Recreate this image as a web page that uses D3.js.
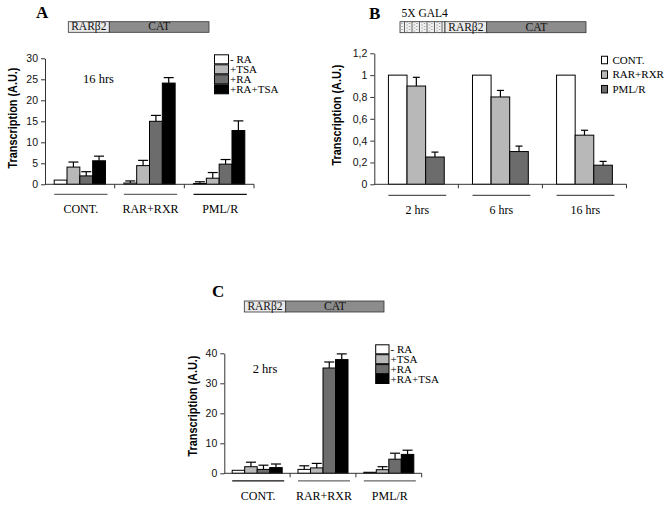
<!DOCTYPE html>
<html>
<head>
<meta charset="utf-8">
<script src="https://cdn.jsdelivr.net/npm/d3@7"></script>
<style>
  body { margin: 0; background: #fff; }
  svg { display: block; }
  .serif { font-family: "Liberation Serif", "Times New Roman", serif; }
  .sans { font-family: "Liberation Sans Narrow", "Arial Narrow", "Liberation Sans", Arial, sans-serif; }
</style>
</head>
<body>
<div id="chart"></div>
<script>
// panel A : 16 hrs
const groupsA = ["CONT.", "RAR+RXR", "PML/R"];
const seriesA = ["- RA", "+TSA", "+RA", "+RA+TSA"];
const valuesA = [[1.0, 4.1, 2.0, 5.6], [0.3, 4.45, 15.0, 24.1], [0.2, 1.45, 4.8, 12.8]];
const errorsA = [[0, 1.2, 1.0, 1.1], [0.5, 1.25, 1.4, 1.3], [0.4, 1.35, 1.1, 2.3]];
const ticksA = [0, 5, 10, 15, 20, 25, 30];

// panel B : 5X GAL4 time course
const groupsB = ["2 hrs", "6 hrs", "16 hrs"];
const seriesB = ["CONT.", "RAR+RXR", "PML/R"];
const valuesB = [[1.0, 0.9, 0.25], [1.0, 0.8, 0.3], [1.0, 0.45, 0.175]];
const errorsB = [[0, 0.08, 0.045], [0, 0.06, 0.05], [0, 0.045, 0.035]];
const ticksB = [0, 0.2, 0.4, 0.6, 0.8, 1, 1.2];

// panel C : 2 hrs
const groupsC = ["CONT.", "RAR+RXR", "PML/R"];
const seriesC = ["- RA", "+TSA", "+RA", "+RA+TSA"];
const valuesC = [[1.0, 2.2, 1.3, 1.9], [1.3, 1.8, 35.1, 37.9], [0.35, 1.2, 4.7, 6.3]];
const errorsC = [[0, 1.5, 1.4, 1.2], [1.2, 1.5, 2.0, 1.9], [0, 1.0, 2.0, 1.4]];
const ticksC = [0, 10, 20, 30, 40];

const fourColors = ["#ffffff", "#b8b8b8", "#6c6c6c", "#000000"];
const threeColors = ["#ffffff", "#b8b8b8", "#6c6c6c"];

const svg = d3.select("#chart")
  .append("svg")
  .attr("width", 667)
  .attr("height", 507);

const defs = svg.append("defs");
const pat = defs.append("pattern")
  .attr("id", "gal4")
  .attr("patternUnits", "userSpaceOnUse")
  .attr("width", 7.5).attr("height", 3);
pat.append("rect").attr("width", 7.5).attr("height", 3).attr("fill", "#f2f2f2");
pat.append("rect").attr("x", 1.5).attr("y", 0.5).attr("width", 1).attr("height", 1).attr("fill", "#777");
pat.append("rect").attr("x", 4).attr("y", 2).attr("width", 1).attr("height", 1).attr("fill", "#777");
pat.append("line").attr("x1", 7).attr("x2", 7).attr("y1", 0).attr("y2", 3)
  .attr("stroke", "#333").attr("stroke-width", 0.8);

function drawPanel(p) {
  const g = svg.append("g");

  const x0 = d3.scaleBand().domain(p.groups).range(p.xRange);
  const bw = x0.bandwidth();
  const x1 = d3.scaleBand().domain(p.series).range([bw * p.inset, bw * (1 - p.inset)]);
  const y = d3.scaleLinear().domain([0, d3.max(p.ticks)]).range(p.yRange);
  const color = d3.scaleOrdinal().domain(p.series).range(p.colors);

  // bars
  const grp = g.selectAll("g.grp")
    .data(p.groups)
    .join("g")
    .attr("class", "grp")
    .attr("transform", d => `translate(${x0(d)},0)`);

  const bars = grp.selectAll("g.bar")
    .data((d, i) => p.series.map((s, j) => ({ s, v: p.values[i][j], e: p.errors[i][j] })))
    .join("g")
    .attr("class", "bar");

  bars.append("rect")
    .attr("x", d => x1(d.s))
    .attr("y", d => y(d.v))
    .attr("width", x1.bandwidth())
    .attr("height", d => y(0) - y(d.v))
    .attr("fill", d => color(d.s))
    .attr("stroke", "#000")
    .attr("stroke-width", 1);

  const err = bars.filter(d => d.e > 0);
  err.append("line")
    .attr("x1", d => x1(d.s) + x1.bandwidth() / 2)
    .attr("x2", d => x1(d.s) + x1.bandwidth() / 2)
    .attr("y1", d => y(d.v))
    .attr("y2", d => y(d.v + d.e))
    .attr("stroke", "#000").attr("stroke-width", 1.2);
  err.append("line")
    .attr("x1", d => x1(d.s) + x1.bandwidth() / 2 - p.cap)
    .attr("x2", d => x1(d.s) + x1.bandwidth() / 2 + p.cap)
    .attr("y1", d => y(d.v + d.e))
    .attr("y2", d => y(d.v + d.e))
    .attr("stroke", "#000").attr("stroke-width", 1.2);

  // y axis
  const yAxis = g.append("g")
    .attr("class", "sans")
    .attr("transform", `translate(${p.xRange[0]},0)`)
    .call(d3.axisLeft(y).tickValues(p.ticks).tickSize(4).tickSizeOuter(0).tickPadding(3).tickFormat(p.fmt));
  yAxis.selectAll("text").attr("font-size", 10.5).attr("fill", "#111");
  yAxis.selectAll("path, line").attr("stroke", "#333");

  // x axis with group boundary ticks
  g.append("line")
    .attr("x1", p.xRange[0]).attr("x2", p.xRange[1])
    .attr("y1", y(0)).attr("y2", y(0))
    .attr("stroke", "#333");
  g.selectAll("line.xt")
    .data(p.groups)
    .join("line")
    .attr("class", "xt")
    .attr("x1", d => x0(d) + bw).attr("x2", d => x0(d) + bw)
    .attr("y1", y(0)).attr("y2", y(0) + 4)
    .attr("stroke", "#333");

  // group underlines and labels
  grp.append("line")
    .attr("x1", bw * p.inset)
    .attr("x2", bw * (1 - p.inset) + 2)
    .attr("y1", y(0) + p.lineOff).attr("y2", y(0) + p.lineOff)
    .attr("stroke", (d, i) => p.lineColors[i])
    .attr("stroke-width", 1.3);
  grp.append("text")
    .attr("class", "serif")
    .attr("x", bw / 2 + 1)
    .attr("y", y(0) + p.labelOff)
    .attr("text-anchor", "middle")
    .attr("font-size", 12)
    .text(d => d);

  // y label
  g.append("text")
    .attr("class", "sans")
    .attr("transform", `translate(${p.yLabel[0]},${p.yLabel[1]}) rotate(-90)`)
    .attr("text-anchor", "middle")
    .attr("font-size", 12.5)
    .attr("font-weight", "bold")
    .attr("textLength", 101)
    .attr("lengthAdjust", "spacingAndGlyphs")
    .text("Transcription (A.U.)");

  // legend
  const leg = g.selectAll("g.leg")
    .data(p.series)
    .join("g")
    .attr("class", "leg")
    .attr("transform", (d, i) => `translate(${p.legend.x},${p.legend.y + i * p.legend.step})`);
  leg.append("rect")
    .attr("x", 0).attr("y", -p.legend.h / 2)
    .attr("width", p.legend.w).attr("height", p.legend.h)
    .attr("fill", d => color(d))
    .attr("stroke", "#000").attr("stroke-width", 1);
  leg.append("text")
    .attr("class", "serif")
    .attr("x", p.legend.w + p.legend.gap)
    .attr("y", 3.5)
    .attr("font-size", p.legend.fs)
    .text(d => d);

  // panel letter and note
  g.append("text")
    .attr("class", "serif")
    .attr("x", p.letter[0]).attr("y", p.letter[1])
    .attr("font-size", 17).attr("font-weight", "bold")
    .text(p.name);
  if (p.note) {
    g.append("text")
      .attr("class", "serif")
      .attr("x", p.note[0]).attr("y", p.note[1])
      .attr("font-size", 12.5)
      .text(p.note[2]);
  }

  // construct diagram
  const c = g.append("g").attr("class", "serif");
  p.construct.forEach(seg => {
    c.append("rect")
      .attr("x", seg.x0).attr("y", p.cy)
      .attr("width", seg.x1 - seg.x0).attr("height", p.ch)
      .attr("fill", seg.fill)
      .attr("stroke", "#333").attr("stroke-width", 0.8);
    if (seg.label) {
      c.append("text")
        .attr("x", (seg.x0 + seg.x1) / 2)
        .attr("y", p.cy + p.ch - 2)
        .attr("text-anchor", "middle")
        .attr("font-size", 11.5)
        .attr("fill", "#111")
        .text(seg.label);
    }
  });
}

const intFmt = d3.format("d");
const commaFmt = d => String(+d.toFixed(1)).replace(".", ",");

drawPanel({
  name: "A", groups: groupsA, series: seriesA, values: valuesA, errors: errorsA,
  ticks: ticksA, fmt: intFmt, colors: fourColors,
  xRange: [45, 254], yRange: [184.3, 58.3], inset: 0.132, cap: 5,
  lineOff: 10, labelOff: 29, lineColors: ["#666", "#666", "#111"],
  yLabel: [17, 118], letter: [36, 18], note: [83, 83, "16 hrs"],
  legend: { x: 214.5, y: 59.3, step: 10, w: 14, h: 9, gap: 1.5, fs: 11 },
  cy: 21.7, ch: 10.6,
  construct: [
    { x0: 68.3, x1: 109.3, fill: "#e9e9e9", label: "RARβ2" },
    { x0: 109.3, x1: 209, fill: "#8c8c8c", label: "CAT" }
  ]
});

drawPanel({
  name: "B", groups: groupsB, series: seriesB, values: valuesB, errors: errorsB,
  ticks: ticksB, fmt: commaFmt, colors: threeColors,
  xRange: [374.3, 626.5], yRange: [184.3, 53.3], inset: 0.168, cap: 3.5,
  lineOff: 11, labelOff: 30, lineColors: ["#555", "#555", "#555"],
  yLabel: [341, 115], letter: [369, 19], note: null,
  legend: { x: 601.5, y: 60, step: 14.6, w: 6, h: 7.5, gap: 5, fs: 11 },
  cy: 21.7, ch: 11,
  construct: [
    { x0: 400, x1: 445, fill: "url(#gal4)" },
    { x0: 445, x1: 486.7, fill: "#e9e9e9", label: "RARβ2" },
    { x0: 486.7, x1: 586, fill: "#8c8c8c", label: "CAT" }
  ]
});

svg.append("text")
  .attr("class", "serif")
  .attr("x", 401.5).attr("y", 17)
  .attr("font-size", 11.5)
  .text("5X GAL4");

drawPanel({
  name: "C", groups: groupsC, series: seriesC, values: valuesC, errors: errorsC,
  ticks: ticksC, fmt: intFmt, colors: fourColors,
  xRange: [224.3, 421.7], yRange: [473.3, 353.3], inset: 0.12, cap: 5,
  lineOff: 7.5, labelOff: 27, lineColors: ["#111", "#666", "#666"],
  yLabel: [197, 406], letter: [212, 297], note: [252.7, 372.5, "2 hrs"],
  legend: { x: 375.7, y: 349.3, step: 9.9, w: 13.3, h: 9, gap: 1.5, fs: 11 },
  cy: 301, ch: 11,
  construct: [
    { x0: 244.3, x1: 285.7, fill: "#e9e9e9", label: "RARβ2" },
    { x0: 285.7, x1: 384, fill: "#8c8c8c", label: "CAT" }
  ]
});
</script>
</body>
</html>
